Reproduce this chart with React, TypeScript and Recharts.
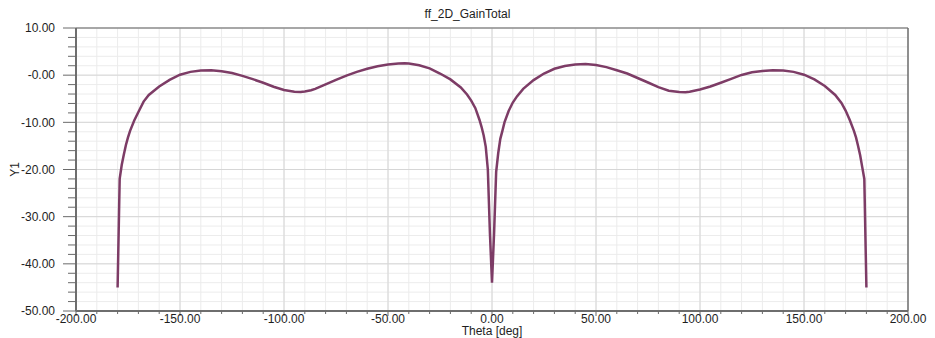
import React from "react";
import { LineChart, Line, XAxis, YAxis, CartesianGrid, ReferenceLine, Label } from "recharts";

const thetaValues: number[] = [
  -180, -179, -178, -177, -176, -175, -174, -172, -170, -167.5, -165, -160, -155, -150, -145, -140, -135, -130,
  -125, -120, -115, -110, -105, -100, -95, -92, -90, -87, -85, -80, -75, -70, -65, -60, -55, -50, -45, -42, -40,
  -35, -30, -25, -20, -15, -12, -10, -8, -6, -5, -4, -3, -2, -1, 0,
  1, 2, 3, 4, 5, 6, 8, 10, 12, 15, 20, 25, 30, 35, 40, 45, 50, 55, 60, 65, 70, 75, 80, 85, 90, 93, 95, 100,
  105, 110, 115, 120, 125, 130, 135, 140, 145, 150, 155, 160, 165, 168, 170, 172, 174, 175, 176, 177, 178, 179, 180,
];

const gainValues: number[] = [
  -45, -22, -19.0, -16.8, -14.8, -13.2, -11.8, -9.6, -7.8, -5.6, -4.2, -2.4, -1.0, 0.1, 0.7, 1.0, 1.05, 0.85,
  0.45, -0.15, -0.85, -1.6, -2.45, -3.15, -3.5, -3.55, -3.45, -3.2, -2.9, -1.95, -1.0, -0.1, 0.7, 1.35, 1.9, 2.25, 2.45, 2.5, 2.45,
  2.1, 1.45, 0.35, -0.9, -2.6, -4.1, -5.4, -7.0, -9.5, -11.0, -12.8, -15.2, -20, -33.5, -44,
  -33.5, -20.5, -16.5, -13.5, -11.8, -10.0, -7.6, -5.8, -4.5, -2.9, -1.05, 0.35, 1.35, 1.95, 2.25, 2.35, 2.15, 1.7, 1.05, 0.35, -0.6, -1.55, -2.55, -3.3, -3.55, -3.6, -3.5, -3.05,
  -2.4, -1.6, -0.8, 0.05, 0.6, 0.9, 1.05, 1.0, 0.7, 0.1, -0.9, -2.3, -4.2, -5.9, -7.5, -9.5, -11.8, -13.2, -15, -17, -19.5, -22, -45,
];

const xTicks: number[] = [
  -200, -190, -180, -170, -160, -150, -140, -130, -120, -110, -100, -90, -80, -70, -60, -50, -40, -30, -20, -10, 0,
  10, 20, 30, 40, 50, 60, 70, 80, 90, 100, 110, 120, 130, 140, 150, 160, 170, 180, 190, 200,
];
const xMajor: number[] = [-150, -100, -50, 0, 50, 100, 150];

const yTicks: number[] = [
  -50, -48, -46, -44, -42, -40, -38, -36, -34, -32, -30, -28, -26, -24, -22, -20, -18, -16, -14, -12, -10,
  -8, -6, -4, -2, 0, 2, 4, 6, 8, 10,
];
const yMajor: number[] = [-40, -30, -20, -10, 0];

const data = thetaValues.map((t, i) => ({ theta: t, gain: gainValues[i] }));

const FONT = "'Liberation Sans', Arial, sans-serif";
const TICK_COLOR = "#6a6a6a";
const TEXT_COLOR = "#1e1e1e";

const fmtY = (v: number) => (v === 0 ? "-0.00" : v.toFixed(2));

const YTick = (props: any) => {
  const { x, y, payload } = props;
  const v = payload.value as number;
  const major = v % 10 === 0;
  return (
    <g>
      <line x1={x - (major ? 13 : 8)} x2={x} y1={y} y2={y} stroke={TICK_COLOR} strokeWidth={1} />
      {major && (
        <text x={x - 21} y={y} dy="0.35em" textAnchor="end" fontSize={12} fill={TEXT_COLOR} fontFamily={FONT}>
          {fmtY(v)}
        </text>
      )}
    </g>
  );
};

const XTick = (props: any) => {
  const { x, y, payload } = props;
  const v = payload.value as number;
  const major = v % 50 === 0;
  return (
    <g>
      <line x1={x} x2={x} y1={y} y2={y + (major ? 5 : 3)} stroke={TICK_COLOR} strokeWidth={1} />
      {major && (
        <text x={x} y={y + 3} dy="0.71em" textAnchor="middle" fontSize={12} fill={TEXT_COLOR} fontFamily={FONT}>
          {v.toFixed(2)}
        </text>
      )}
    </g>
  );
};

export default function App() {
  return (
    <div style={{ position: "relative", width: 927, height: 330, fontFamily: FONT }}>
      <div
        style={{
          position: "absolute",
          top: -1,
          left: -4,
          width: 927,
          textAlign: "center",
          fontSize: 12,
          lineHeight: "14px",
          color: TEXT_COLOR,
          fontFamily: FONT,
        }}
      >
        ff_2D_GainTotal
      </div>
      <LineChart width={927} height={330} data={data} margin={{ top: 20, right: 27, bottom: 0, left: 0 }}>
        <CartesianGrid stroke="#ececec" strokeWidth={1} />
        {xMajor.map((v) => (
          <ReferenceLine key={"xm" + v} x={v} stroke="#d6d6d6" strokeWidth={1} />
        ))}
        {yMajor.map((v) => (
          <ReferenceLine key={"ym" + v} y={v} stroke="#d6d6d6" strokeWidth={1} />
        ))}
        <ReferenceLine y={10} stroke="#8c8c8c" strokeWidth={1.5} />
        <ReferenceLine x={200} stroke="#6e6e6e" strokeWidth={1.5} />
        <XAxis
          dataKey="theta"
          type="number"
          domain={[-200, 200]}
          ticks={xTicks}
          interval={0}
          tickSize={0}
          tickMargin={0}
          tickLine={false}
          tick={<XTick />}
          height={27}
          axisLine={{ stroke: "#6e6e6e", strokeWidth: 2 }}
          allowDataOverflow
        >
          <Label
            content={(p: any) => {
              const vb = p.viewBox || {};
              return (
                <text
                  x={vb.x + vb.width / 2}
                  y={vb.y + 24}
                  textAnchor="middle"
                  fontSize={12}
                  fill={TEXT_COLOR}
                  fontFamily={FONT}
                >
                  Theta [deg]
                </text>
              );
            }}
          />
        </XAxis>
        <YAxis
          type="number"
          domain={[-50, 10]}
          ticks={yTicks}
          interval={0}
          tickSize={0}
          tickMargin={0}
          tickLine={false}
          tick={<YTick />}
          width={68}
          axisLine={{ stroke: "#6e6e6e", strokeWidth: 2 }}
          allowDataOverflow
        >
          <Label
            content={(p: any) => {
              const vb = p.viewBox || {};
              const cx = vb.x + 11;
              const cy = vb.y + vb.height / 2;
              return (
                <text
                  x={cx}
                  y={cy}
                  transform={`rotate(-90, ${cx}, ${cy})`}
                  textAnchor="middle"
                  fontSize={12}
                  fill={TEXT_COLOR}
                  fontFamily={FONT}
                >
                  Y1
                </text>
              );
            }}
          />
        </YAxis>
        <Line
          type="linear"
          dataKey="gain"
          stroke="#7d3c66"
          strokeWidth={2.5}
          dot={false}
          activeDot={false}
          isAnimationActive={false}
        />
      </LineChart>
    </div>
  );
}
